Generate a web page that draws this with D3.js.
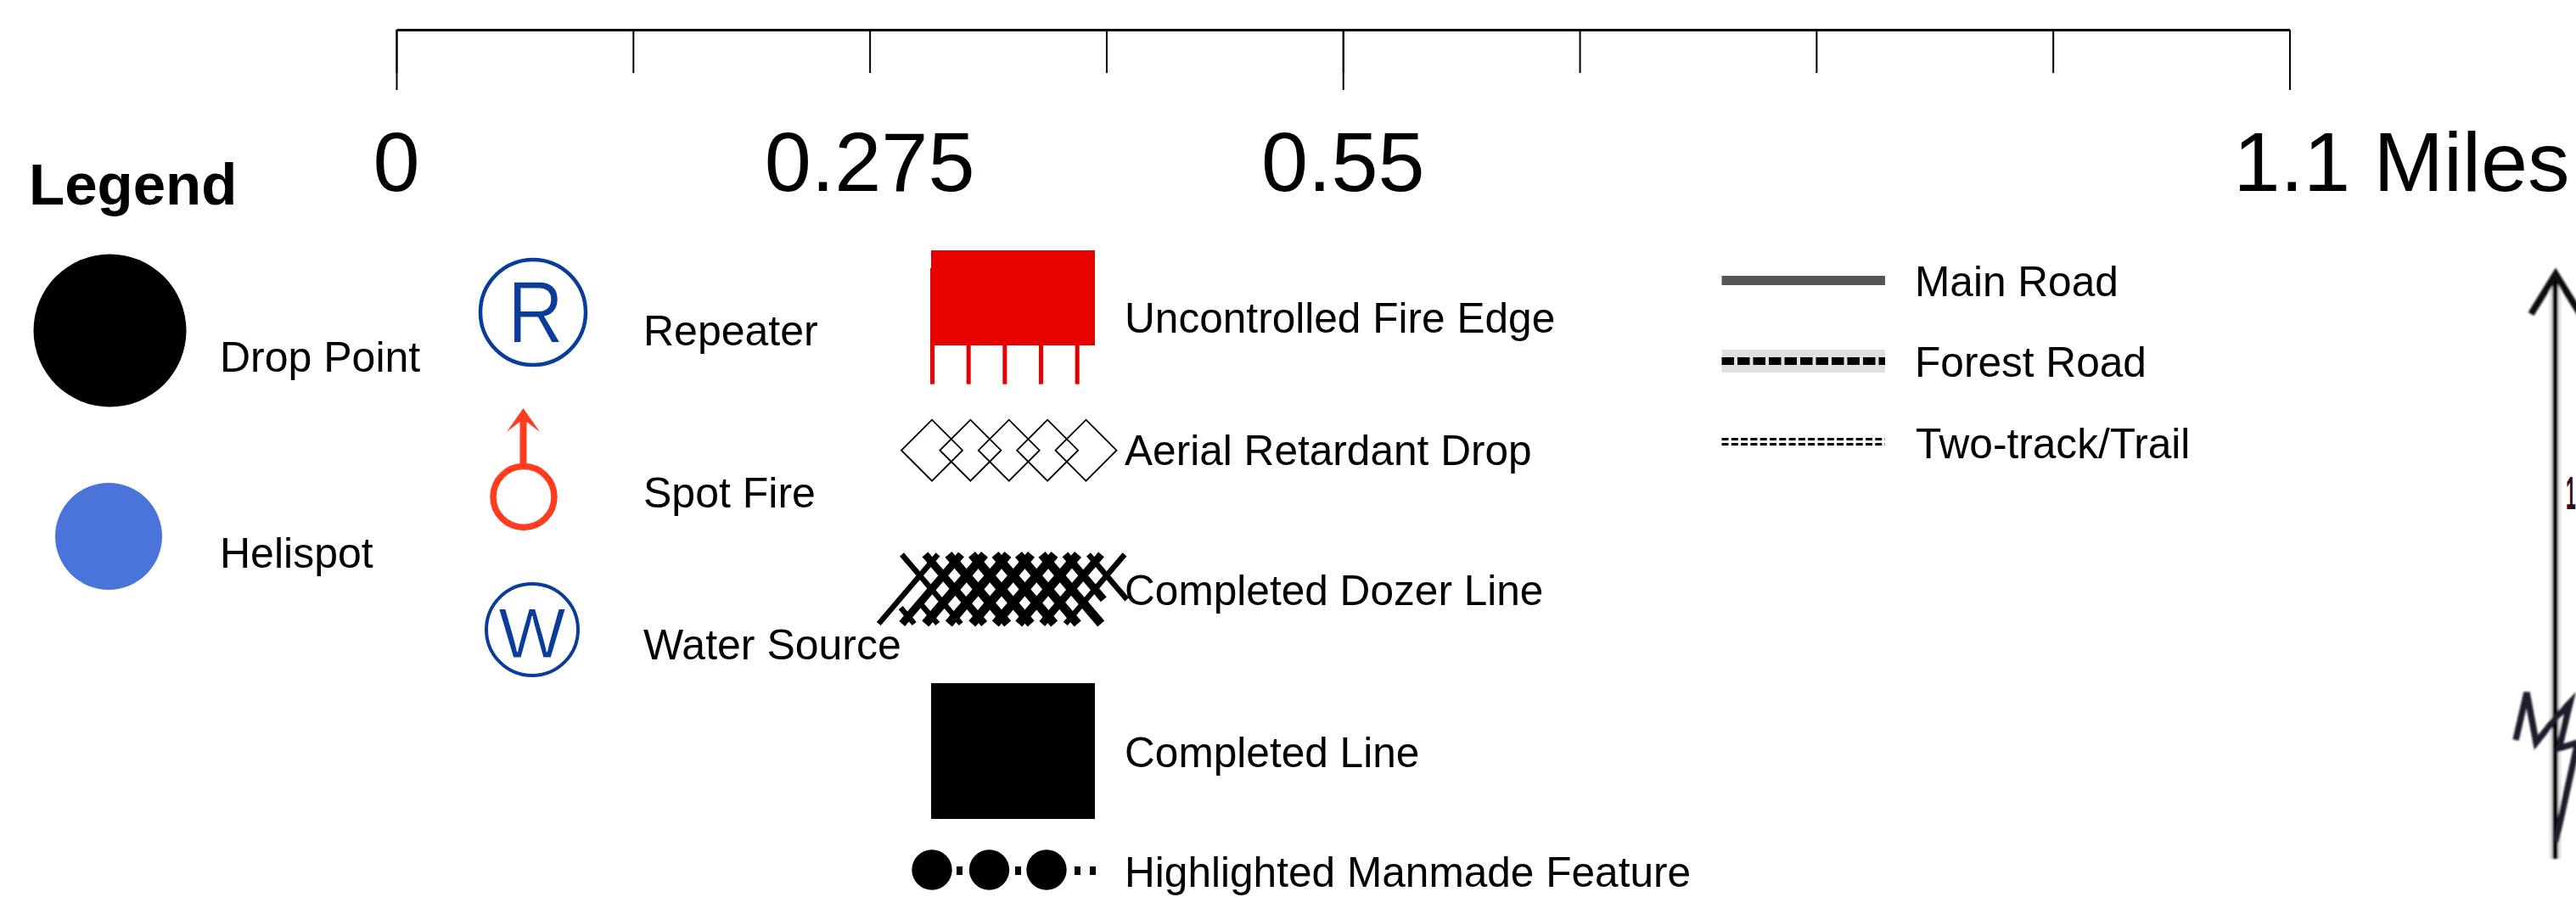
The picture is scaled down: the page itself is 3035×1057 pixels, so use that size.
<!DOCTYPE html>
<html>

<head>
    <meta charset="UTF-8">
    <style>
        body {
            margin: 0;
            background: #fff;
        }

        svg {
            display: block;
        }

        text {
            font-family: "Liberation Sans", Arial, sans-serif;
            fill: #000;
        }
    </style>
</head>

<body>
    <svg></svg>
    <script src="https://d3js.org/d3.v7.min.js"></script>

    <script>

        // Scale bar values (miles)
        const scaleTicks = [0, 0.1375, 0.275, 0.4125, 0.55, 0.6875, 0.825, 0.9625, 1.1];
        const scaleLongTicks = [0, 0.55, 1.1];
        const scaleLabelValues = [0, 0.275, 0.55, 1.1];
        const scaleLabels = ["0", "0.275", "0.55", "1.1 Miles"];

        // Legend entries, one list per column
        const pointNames = ["Drop Point", "Helispot"];
        const symbolNames = ["Repeater", "Spot Fire", "Water Source"];
        const lineNames = ["Uncontrolled Fire Edge", "Aerial Retardant Drop", "Completed Dozer Line", "Completed Line", "Highlighted Manmade Feature"];
        const roadNames = ["Main Road", "Forest Road", "Two-track/Trail"];

        // Counts used by the repeated symbols
        const fireTeeth = [0, 1, 2, 3, 4];
        const retardantDiamonds = [0, 1, 2, 3, 4];
        const featureCircles = [0, 1, 2];
        const featureDashes = [0, 1, 2, 3];

        let width = 3035, height = 1057;

        let svg = d3.select("svg")
            .attr("width", width)
            .attr("height", height)
            .attr("viewBox", "0 0 " + width + " " + height);

        let line = d3.line();

        function addLabel(name, x, y, size = 49.6) {
            svg.append("text")
                .attr("font-size", size)
                .attr("x", x)
                .attr("y", y)
                .text(name);
        }

        // ---- scale bar
        let x = d3.scaleLinear().domain([0, 1.1]).range([467, 2697.5]);

        let bar = svg.append("g").attr("transform", "translate(0,35)");

        bar.append("g")
            .call(d3.axisBottom(x).tickValues(scaleTicks).tickSize(51).tickSizeOuter(0).tickFormat(""))
            .call(g => g.select(".domain").attr("stroke-width", 3))
            .call(g => g.selectAll(".tick line").attr("stroke-width", 2));

        bar.append("g")
            .call(d3.axisBottom(x).tickValues(scaleLongTicks).tickSize(71).tickFormat(""))
            .call(g => g.select(".domain").remove())
            .call(g => g.selectAll(".tick line").attr("stroke-width", 2));

        svg.append("g")
            .selectAll("text")
            .data(scaleLabelValues)
            .join("text")
            .attr("x", d => x(d) + (d == 1.1 ? 132 : 0))
            .attr("y", 225)
            .attr("text-anchor", "middle")
            .attr("font-size", 99)
            .text((d, i) => scaleLabels[i]);

        svg.append("text")
            .attr("x", 34)
            .attr("y", 241)
            .attr("font-size", 69)
            .attr("font-weight", "bold")
            .text("Legend");

        // ---- round points
        svg.append("circle").attr("cx", 129.5).attr("cy", 389.5).attr("r", 90).attr("fill", "#000");
        addLabel(pointNames[0], 259, 438, 50);

        svg.append("circle").attr("cx", 128).attr("cy", 632).attr("r", 63).attr("fill", "#4a74da");
        addLabel(pointNames[1], 259, 668.5, 50);

        // ---- repeater, spot fire, water source
        const symbolBlue = "#0a3d9b";
        const spotRed = "#ff3b20";

        svg.append("circle").attr("cx", 628).attr("cy", 368).attr("r", 62)
            .attr("fill", "none").attr("stroke", symbolBlue).attr("stroke-width", 4.5);
        svg.append("text").attr("x", 631).attr("y", 404).attr("text-anchor", "middle")
            .attr("font-size", 103).attr("textLength", 66).attr("lengthAdjust", "spacingAndGlyphs")
            .style("fill", symbolBlue)
            .style("stroke", "#fff").style("stroke-width", 1.2)
            .text("R");
        addLabel(symbolNames[0], 758, 407, 50);

        svg.append("path")
            .attr("d", line([[616.5, 490], [616.5, 548]]))
            .attr("stroke", spotRed).attr("stroke-width", 8);
        svg.append("path")
            .attr("d", line([[616.5, 481], [636, 509], [620.5, 497], [612.5, 497], [597, 509]]) + "Z")
            .attr("fill", spotRed);
        svg.append("circle").attr("cx", 617).attr("cy", 585.5).attr("r", 36)
            .attr("fill", "none").attr("stroke", spotRed).attr("stroke-width", 7.5);
        addLabel(symbolNames[1], 758, 598, 50);

        svg.append("circle").attr("cx", 627).attr("cy", 742).attr("r", 54)
            .attr("fill", "none").attr("stroke", symbolBlue).attr("stroke-width", 4);
        svg.append("text").attr("x", 627).attr("y", 775).attr("text-anchor", "middle")
            .attr("font-size", 84)
            .style("fill", symbolBlue)
            .style("stroke", "#fff").style("stroke-width", 1)
            .text("W");
        addLabel(symbolNames[2], 758, 777, 50);

        // ---- uncontrolled fire edge
        const fireRed = "#e60000";
        svg.append("path")
            .attr("d", line([[1097, 295], [1290, 295], [1290, 407], [1096, 407], [1096, 316], [1097, 316]]) + "Z")
            .attr("fill", fireRed);
        let toothX = d3.scaleLinear().domain([0, 4]).range([1096, 1266.7]);
        svg.append("g")
            .selectAll("rect")
            .data(fireTeeth)
            .join("rect")
            .attr("x", d => toothX(d))
            .attr("y", 400)
            .attr("width", 5)
            .attr("height", 52.7)
            .attr("fill", fireRed);
        addLabel(lineNames[0], 1325, 392);

        // ---- aerial retardant drop
        let diamondX = d3.scaleLinear().domain([0, 4]).range([1098, 1279.5]);
        svg.append("g")
            .selectAll("path")
            .data(retardantDiamonds)
            .join("path")
            .attr("d", d => {
                let cx = diamondX(d), cy = 530.7, s = 36;
                return line([[cx - s, cy], [cx, cy - s], [cx + s, cy], [cx, cy + s]]) + "Z";
            })
            .attr("fill", "none")
            .attr("stroke", "#000")
            .attr("stroke-width", 1.8);
        addLabel(lineNames[1], 1325, 548);

        // ---- completed dozer line: two overlapping hatch families
        const hatchTop = 653.3, hatchBottom = 735, hatchRun = 69.7, hatchStep = 27.5;
        let hatch = svg.append("g").attr("stroke", "#000").attr("fill", "none");

        function strandWidth(k) {
            return (k == 0 || k == 8) ? 6.5 : (k == 1 || k == 7) ? 9 : 10.5;
        }

        // rising strands
        d3.range(9).forEach(k => {
            let top = 1105 + hatchStep * k;
            hatch.append("path")
                .attr("d", line([[top, hatchTop], [top - hatchRun, hatchBottom]]))
                .attr("stroke-width", strandWidth(k));
        });

        // falling strands, the last two stop early and the two extra start late
        d3.range(-2, 9).forEach(k => {
            let top = 1062.5 + hatchStep * k;
            let t0 = k == -2 ? 0.77 : k == -1 ? 0.67 : 0;
            let t1 = k >= 7 ? 0.65 : 1;
            hatch.append("path")
                .attr("d", line([
                    [top + hatchRun * t0, hatchTop + (hatchBottom - hatchTop) * t0],
                    [top + hatchRun * t1, hatchTop + (hatchBottom - hatchTop) * t1]
                ]))
                .attr("stroke-width", k < 1 || k == 8 ? 6.5 : strandWidth(k));
        });
        addLabel(lineNames[2], 1325, 713);

        // ---- completed line
        svg.append("rect").attr("x", 1097).attr("y", 805).attr("width", 193).attr("height", 160).attr("fill", "#000");
        addLabel(lineNames[3], 1325, 904);

        // ---- highlighted manmade feature
        let featureX = d3.scaleLinear().domain([0, 2]).range([1098, 1233]);
        svg.append("g")
            .selectAll("circle")
            .data(featureCircles)
            .join("circle")
            .attr("cx", d => featureX(d))
            .attr("cy", 1025)
            .attr("r", 23.7)
            .attr("fill", "#000");
        svg.append("g")
            .selectAll("rect")
            .data(featureDashes)
            .join("rect")
            .attr("x", d => [1127, 1196, 1266, 1284][d])
            .attr("y", 1021)
            .attr("width", 7)
            .attr("height", 10)
            .attr("fill", "#000");
        addLabel(lineNames[4], 1325, 1045);

        // ---- roads
        const roadLeft = 2028.5, roadRight = 2221;

        svg.append("path")
            .attr("d", line([[roadLeft, 330.5], [roadRight, 330.5]]))
            .attr("stroke", "#555").attr("stroke-width", 11);
        addLabel(roadNames[0], 2256, 349);

        svg.append("path")
            .attr("d", line([[roadLeft, 425.5], [roadRight, 425.5]]))
            .attr("stroke", "#e0e0e0").attr("stroke-width", 27);
        svg.append("path")
            .attr("d", line([[roadLeft, 425.5], [roadRight, 425.5]]))
            .attr("stroke", "#000").attr("stroke-width", 9).attr("stroke-dasharray", "14.5 4");
        addLabel(roadNames[1], 2256, 444);

        [517.5, 523.5].forEach(y => {
            svg.append("path")
                .attr("d", line([[roadLeft, y], [roadRight, y]]))
                .attr("stroke", "#000").attr("stroke-width", 3).attr("stroke-dasharray", "8 3.3");
        });
        addLabel(roadNames[2], 2257, 540);

        // ---- north arrow, soft like the scanned original
        let defs = svg.append("defs");
        defs.append("filter").attr("id", "soft")
            .append("feGaussianBlur").attr("stdDeviation", 1);

        let north = svg.append("g").attr("fill", "none").attr("filter", "url(#soft)");
        north.append("path")
            .attr("d", line([[3010.5, 330], [3010.5, 1012]]))
            .attr("stroke", "#e2e2e2").attr("stroke-width", 14);
        north.append("path")
            .attr("d", line([[3010.5, 324], [3010.5, 1012]]))
            .attr("stroke", "#000").attr("stroke-width", 6);
        north.append("path")
            .attr("d", line([[2982, 370], [3011, 323], [3040, 370]]))
            .attr("stroke", "#111").attr("stroke-width", 8);
        north.append("path")
            .attr("d", line([[2964, 872], [2977, 816], [2988, 875], [3012, 845], [3028, 828], [3015, 882], [3037, 875], [3011, 992]]))
            .attr("stroke", "#1c1a2a").attr("stroke-width", 7.5);
        // the "1" is squeezed so it stays inside the page
        svg.append("text")
            .attr("transform", "translate(3023,600) scale(0.38,1)")
            .attr("font-size", 56)
            .attr("font-weight", "bold")
            .style("fill", "#301020")
            .text("1");

    </script>

</body>

</html>
